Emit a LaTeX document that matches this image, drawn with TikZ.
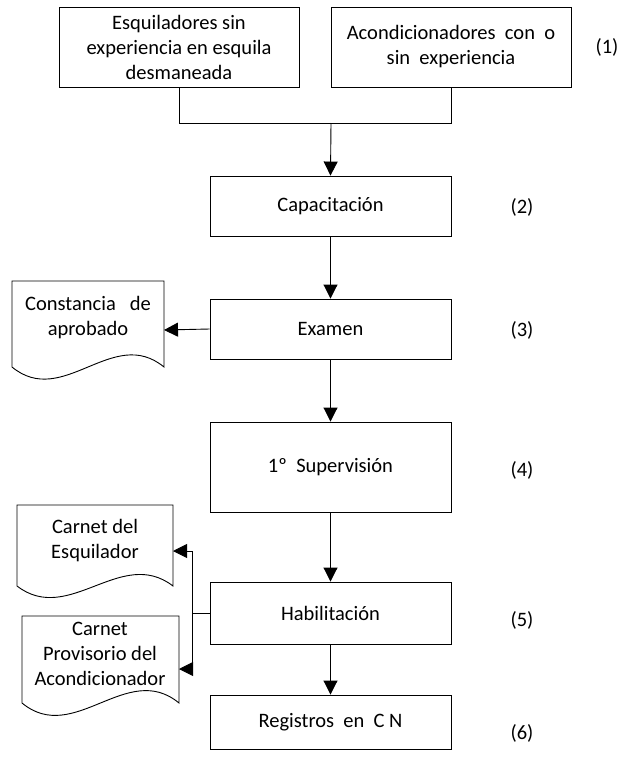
\documentclass[tikz,border=0pt]{standalone}
\usepackage{fontspec}
\setmainfont{Carlito}
\usetikzlibrary{arrows.meta}
\begin{document}
\begin{tikzpicture}[x=1pt,y=-1pt,
  font=\fontsize{20.5}{25}\selectfont,
  box/.style={draw, line width=0.9pt, rectangle, inner sep=0pt, align=center, minimum width=241pt},
  doc/.style={draw, line width=0.9pt, line join=miter},
  doctext/.style={align=center, inner sep=0pt},
  arr/.style={line width=0.9pt, -{Triangle[length=14pt,width=14pt]}},
  ln/.style={line width=0.9pt},
  num/.style={inner sep=0pt}]
\useasboundingbox (0,0) rectangle (619,758);
% top boxes
\node[box, minimum width=240pt, minimum height=80pt] (b1) at (179,47) {Esquiladores sin\\experiencia en esquila\\desmaneada};
\node[box, minimum width=240pt, minimum height=80pt] (b2) at (451,47) {Acondicionadores\ \ con\ \ o\\sin\ \ experiencia};
\node[num] (n1) at (607,47) {(1)};
% main column
\node[box, minimum height=60pt] (cap) at (330.5,206) {Capacitación};
\node[num] (n2) at (522,207) {(2)};
\node[box, minimum height=60pt] (exa) at (330.5,329) {Examen};
\node[num] (n3) at (522,330) {(3)};
\node[box, minimum height=90pt] (sup) at (330.5,467) {1º\ \ Supervisión};
\node[num] (n4) at (522,470) {(4)};
\node[box, minimum height=62pt] (hab) at (330.5,613) {Habilitación};
\node[num] (n5) at (522,620) {(5)};
\node[box, minimum height=54pt] (reg) at (330.5,722) {Registros\ \ en\ \ C N};
\node[num] (n6) at (522,733) {(6)};
% merge of top boxes
\coordinate (j) at (331,123);
\draw[ln] (b1.south) |- (j);
\draw[ln] (b2.south) |- (j);
\draw[arr] (j) -- (cap.north);
\draw[arr] (cap) -- (exa);
\draw[arr] (exa) -- (sup);
\draw[arr] (sup) -- (hab);
\draw[arr] (hab) -- (reg);
% document shapes
\draw[doc] (12,367) -- (12,281) -- (164,281) -- (164,367)
  .. controls (113,325) and (63,409) .. (12,367);
\node[doctext] (d1) at (88,318) {Constancia\ \ \ de\\aprobado};
\coordinate (d1r) at (164,330);
\draw[doc] (17,586) -- (17,505) -- (173,505) -- (173,586)
  .. controls (121,546) and (69,626) .. (17,586);
\node[doctext] (d2) at (95,541) {Carnet del\\Esquilador};
\coordinate (d2r) at (173,551);
\draw[doc] (22,703) -- (22,616) -- (179,616) -- (179,703)
  .. controls (127,660) and (74,746) .. (22,703);
\node[doctext] (d3) at (100,654) {Carnet\\Provisorio del\\Acondicionador};
\coordinate (d3r) at (179,669);
% side connectors
\draw[arr] (exa.west) -- (d1r);
\coordinate (k) at (192,613);
\draw[ln] (hab.west) -- (k);
\draw[arr] (k) |- (d2r);
\draw[arr] (k) |- (d3r);
\end{tikzpicture}
\end{document}
